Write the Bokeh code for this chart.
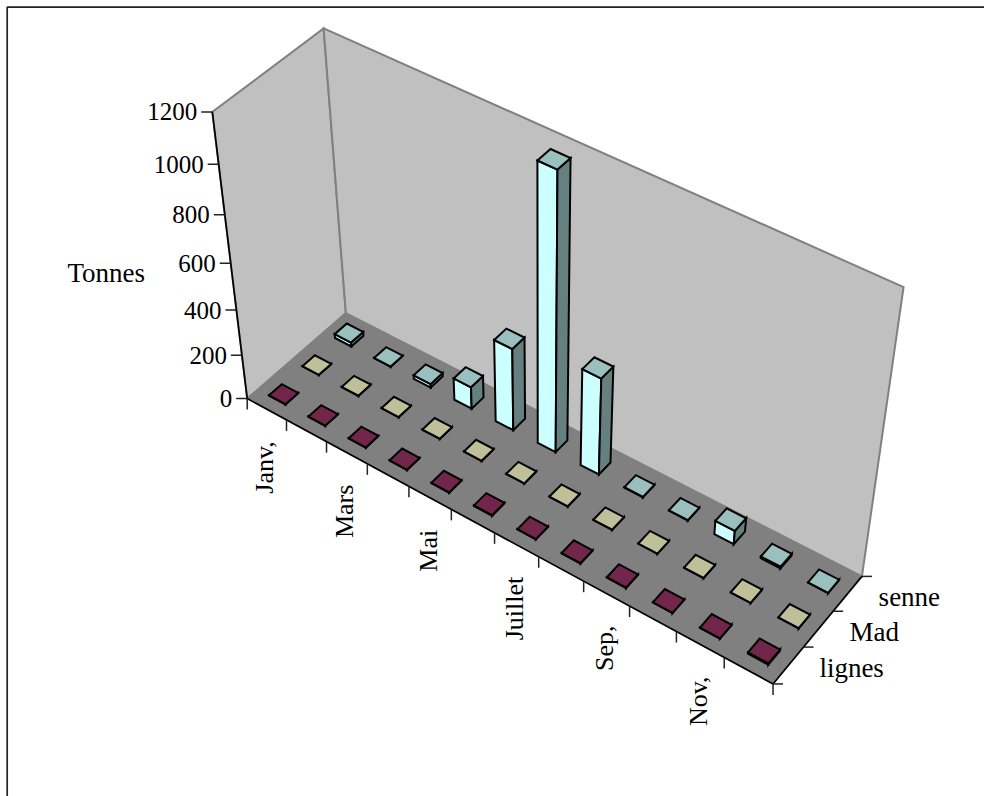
import numpy as np
from bokeh.plotting import figure
from bokeh.models import Range1d
from bokeh.core.properties import value
from bokeh.embed import file_html
from bokeh.resources import INLINE

# ---- chart data ----
months = ["Janv,", "Fev,", "Mars", "Avr,", "Mai", "Juin", "Juillet", "Aout", "Sep,", "Oct,", "Nov,", "Dec,"]
month_labels = ["Janv,", "", "Mars", "", "Mai", "", "Juillet", "", "Sep,", "", "Nov,", ""]
series_names = ["lignes", "Mad", "senne"]
lignes = [1, 1, 1, 1, 1, 3, 1, 1, 2, 1, 1, 6]
mad = [1, 1, 1, 1, 1, 1, 1, 1, 1, 1, 1, 1]
senne = [18, 1, 16, 99, 367, 1180, 431, 2, 2, 62, 8, 1]
z_ticks = [0, 200, 400, 600, 800, 1000, 1200]
z_max = 1200
axis_title = "Tonnes"

# ---- colours ----
series_rgb = [(0x99, 0x33, 0x66), (0xFF, 0xFF, 0xCC), (0xCC, 0xFF, 0xFF)]
WALL, FLOOR, EDGE = "#C0C0C0", "#808080", "#808080"
FONT = value("Liberation Serif")


def shade(rgb, f):
    return "#%02x%02x%02x" % tuple(int(round(c * f)) for c in rgb)


# ---- camera: projective map of the unit box (month, series, height) to the page ----
box_corners = [(0, 0, 0), (1, 0, 0), (0, 1, 0), (1, 1, 0), (0, 0, 1), (0, 1, 1), (1, 1, 1)]
page_corners = [(247, 398), (772, 684), (345, 313), (862, 575), (212, 111), (323, 28), (903, 287)]
A, b = [], []
for (X, Y, Z), (u, v) in zip(box_corners, page_corners):
    A.append([X, Y, Z, 1, 0, 0, 0, 0, -u * X, -u * Y, -u * Z])
    b.append(u)
    A.append([0, 0, 0, 0, X, Y, Z, 1, -v * X, -v * Y, -v * Z])
    b.append(v)
m = np.linalg.lstsq(np.array(A, float), np.array(b, float), rcond=None)[0]
P = np.append(m, 1.0).reshape(3, 4)


def proj(mon, ser, val):
    """month units (0..12), series units (0..3), tonnes -> page pixels"""
    h = P @ np.array([mon / 12, ser / 3, val / z_max, 1.0])
    return float(h[0] / h[2]), float(h[1] / h[2])


# ---- figure whose data units are picture pixels ----
W, H = 984, 796
p = figure(width=W, height=H, output_backend="svg", toolbar_location=None,
           x_range=Range1d(0, W), y_range=Range1d(H, 0),
           min_border=0, outline_line_color=None)
p.axis.visible = False
p.grid.visible = False
p.background_fill_color = "white"


def face(pts, fill, line="black", lw=2.0):
    xs, ys = zip(*pts)
    p.patch(list(xs), list(ys), fill_color=fill, line_color=line, line_width=lw, line_join="miter")


def seg(a, b, color="black", lw=1.7):
    p.line([a[0], b[0]], [a[1], b[1]], line_color=color, line_width=lw)


NM, NS = len(months), len(series_names)

# frame of the page
p.line([6.7, 6.7, W], [H, 6.7, 6.7], line_color="#222222", line_width=1.7)

# walls and floor
face([proj(0, 0, 0), proj(0, NS, 0), proj(0, NS, z_max), proj(0, 0, z_max)], WALL, EDGE, 2)
face([proj(0, NS, 0), proj(NM, NS, 0), proj(NM, NS, z_max), proj(0, NS, z_max)], WALL, EDGE, 2)
face([proj(0, 0, 0), proj(NM, 0, 0), proj(NM, NS, 0), proj(0, NS, 0)], FLOOR, FLOOR, 1)

# axes lines
seg(proj(0, 0, 0), proj(0, 0, z_max))
seg(proj(0, 0, 0), proj(NM, 0, 0))
seg(proj(NM, 0, 0), proj(NM, NS, 0))

# height axis
for t in z_ticks:
    x, y = proj(0, 0, t)
    seg((x - 11, y), (x, y), "#222222", 1.5)
    p.text([x - 15], [y], text=[str(t)], text_font=FONT, text_font_size=value("25px"),
           text_align="right", text_baseline="middle", text_color="black")
p.text([67], [272], text=[axis_title], text_font=FONT, text_font_size=value("27px"),
       text_align="left", text_baseline="alphabetic", text_color="black")

# month axis
for i in range(NM + 1):
    x, y = proj(i, 0, 0)
    seg((x, y), (x, y + 11), "#222222", 1.5)
for i, lab in enumerate(month_labels):
    if lab:
        x, y = proj(i + 0.5, 0, 0)
        p.text([x - 2], [y + 32], text=[lab], angle=[np.pi / 2], text_font=FONT,
               text_font_size=value("26px"), text_align="right", text_baseline="alphabetic",
               text_color="black")

# series axis
for j in range(NS + 1):
    x, y = proj(NM, j, 0)
    seg((x, y), (x + 10, y), "#222222", 1.5)
for j, lab in enumerate(series_names):
    x, y = proj(NM, j + 0.5, 0)
    p.text([x + 31], [y + 3], text=[lab], text_font=FONT, text_font_size=value("27px"),
           text_align="left", text_baseline="alphabetic", text_color="black")

# bars, far to near
FX, FY = 0.42, 0.38
rows = [lignes, mad, senne]
for j in range(NS - 1, -1, -1):
    base = series_rgb[j]
    for i in range(NM):
        v = rows[j][i]
        x0, x1 = i + 0.5 - FX / 2, i + 0.5 + FX / 2
        y0, y1 = j + 0.5 - FY / 2, j + 0.5 + FY / 2
        face([proj(x0, y0, 0), proj(x1, y0, 0), proj(x1, y0, v), proj(x0, y0, v)], shade(base, 1.0))
        face([proj(x1, y0, 0), proj(x1, y1, 0), proj(x1, y1, v), proj(x1, y0, v)], shade(base, 0.5))
        face([proj(x0, y0, v), proj(x1, y0, v), proj(x1, y1, v), proj(x0, y1, v)], shade(base, 0.75))

open("out.html", "w").write(file_html(p, INLINE))
